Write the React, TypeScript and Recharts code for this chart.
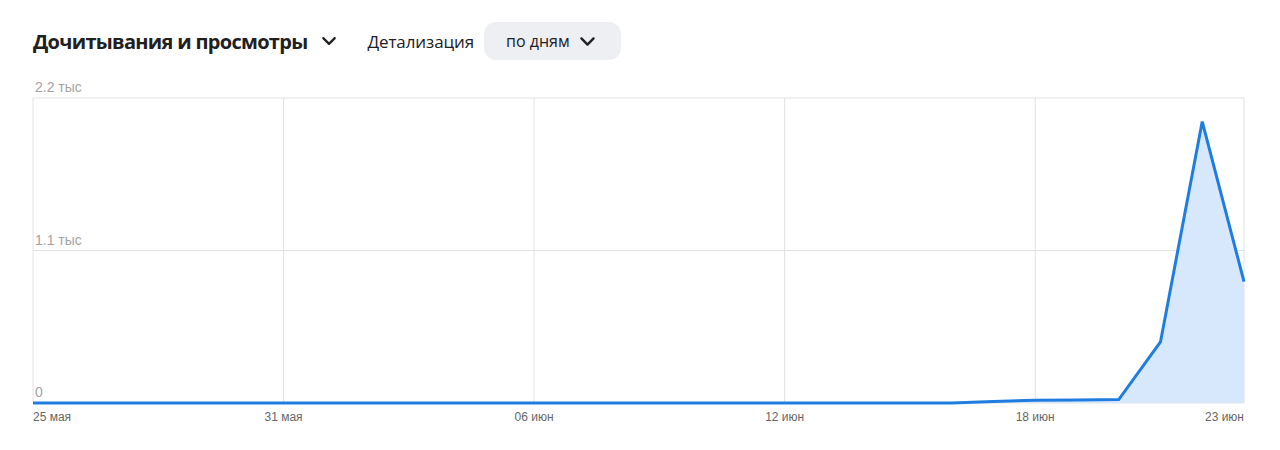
import React from 'react';
import { AreaChart, Area, XAxis, YAxis, CartesianGrid } from 'recharts';

// дни с 25 мая по 23 июня
const days = [
  '25 мая', '26 мая', '27 мая', '28 мая', '29 мая', '30 мая', '31 мая',
  '01 июн', '02 июн', '03 июн', '04 июн', '05 июн', '06 июн', '07 июн',
  '08 июн', '09 июн', '10 июн', '11 июн', '12 июн', '13 июн', '14 июн',
  '15 июн', '16 июн', '17 июн', '18 июн', '19 июн', '20 июн', '21 июн',
  '22 июн', '23 июн',
];
const views = [
  0, 0, 0, 0, 0, 0, 0,
  0, 0, 0, 0, 0, 0, 0,
  0, 0, 0, 0, 0, 0, 0,
  0, 0, 10, 20, 22, 25, 440,
  2030, 875,
];
const xTicks = [0, 6, 12, 18, 24, 29];
const yTicks = [0, 1100, 2200];
const yLabels: Record<number, string> = { 0: '0', 1100: '1.1 тыс', 2200: '2.2 тыс' };

const data = days.map((d, i) => ({ i, day: d, value: views[i] }));

const renderXTick = ({ x, y, payload }: any) => {
  const idx = payload.value;
  const anchor = idx === 0 ? 'start' : idx === days.length - 1 ? 'end' : 'middle';
  return (
    <text key={`x-${idx}`} x={x} y={y + 10} textAnchor={anchor} fill="#666" fontSize={12} fontFamily="Liberation Sans, Arial, sans-serif">
      {days[idx]}
    </text>
  );
};

const renderYTick = ({ x, y, payload }: any) => (
  <text key={`y-${payload.value}`} x={x + 1} y={y - 6} textAnchor="start" fill="#a3a3a3" fontSize={14} fontFamily="Liberation Sans, Arial, sans-serif">
    {yLabels[payload.value]}
  </text>
);

const Chevron = ({ color = '#222', size = 14, width = 2 }: any) => (
  <svg width={size} height={size} viewBox="0 0 14 14" style={{ display: 'block' }}>
    <path d="M2 4.5 L7 9.5 L12 4.5" fill="none" stroke={color} strokeWidth={width} strokeLinecap="round" strokeLinejoin="round" />
  </svg>
);

export default function App() {
  return (
    <div style={{ position: 'absolute', left: 0, top: 0, width: 1280, height: 450, background: '#fff', fontFamily: '"Open Sans", sans-serif' }}>
      {/* шапка */}
      <div style={{ position: 'absolute', left: 33, top: 22, height: 38, display: 'flex', alignItems: 'center' }}>
        <span style={{ fontSize: 20, fontWeight: 700, color: '#21201f', letterSpacing: -0.7 }}>Дочитывания и просмотры</span>
        <span style={{ marginLeft: 14 }}><Chevron size={16} /></span>
        <span style={{ marginLeft: 30, fontSize: 17, color: '#21201f', letterSpacing: -0.1 }}>Детализация</span>
        <span style={{ marginLeft: 10, height: 38, padding: '0 25px 0 22px', background: '#edeff2', borderRadius: 12, display: 'flex', alignItems: 'center', fontSize: 16, color: '#21201f' }}>
          по дням
          <span style={{ marginLeft: 9 }}><Chevron size={17} /></span>
        </span>
      </div>

      <div style={{ position: 'absolute', left: 0, top: 80 }}>
        <AreaChart width={1280} height={370} data={data} margin={{ top: 18, right: 36, left: 33, bottom: 0 }}>
          <CartesianGrid stroke="#e2e2e2" />
          <XAxis
            dataKey="i"
            type="number"
            domain={[0, days.length - 1]}
            ticks={xTicks}
            interval={0}
            height={47}
            axisLine={false}
            tickLine={false}
            tick={renderXTick}
          />
          <Area
            type="linear"
            dataKey="value"
            stroke="#1f7de2"
            strokeWidth={3}
            fill="#d8e8fc"
            fillOpacity={1}
            dot={false}
            activeDot={false}
            isAnimationActive={false}
          />
          <YAxis
            type="number"
            domain={[0, 2200]}
            ticks={yTicks}
            interval={0}
            mirror
            tickSize={0}
            tickMargin={1}
            axisLine={false}
            tickLine={false}
            tick={renderYTick}
          />
        </AreaChart>
      </div>
    </div>
  );
}
